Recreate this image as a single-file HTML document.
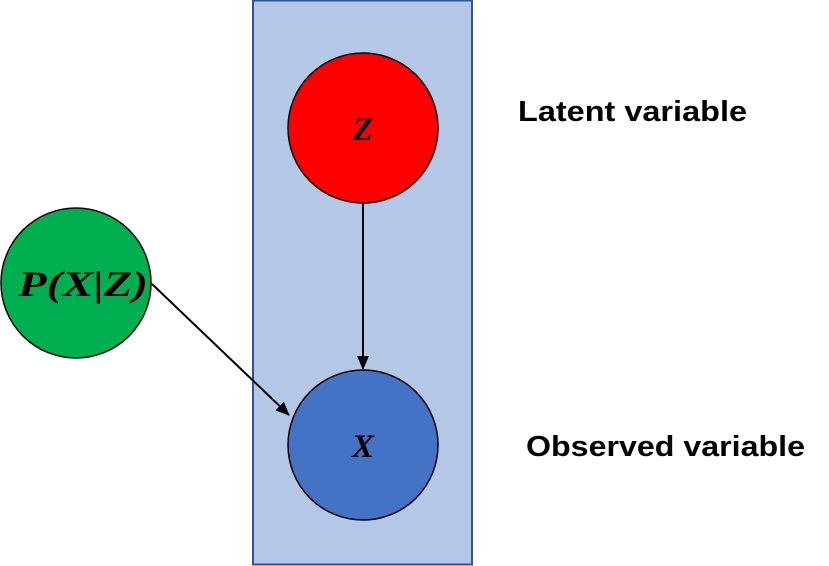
<!DOCTYPE html>
<html><head><style>
html,body{margin:0;padding:0;background:#fff;width:829px;height:566px;overflow:hidden}
</style></head><body>
<svg width="829" height="566" xmlns="http://www.w3.org/2000/svg">
<defs><marker id="b" markerWidth="14" markerHeight="12" refX="13" refY="6" orient="auto" markerUnits="userSpaceOnUse"><path d="M0,0 L14,6 L0,12 z" fill="#000"/></marker></defs>
<rect x="253" y="0.5" width="219" height="564" fill="#b4c7e7" stroke="#2f5597" stroke-width="2"/>
<circle cx="363" cy="128" r="75" fill="#ff0000" stroke="#000" stroke-width="1.5"/>
<circle cx="363" cy="445" r="75" fill="#4472c4" stroke="#000" stroke-width="1.5"/>
<circle cx="76" cy="283" r="75" fill="#00b050" stroke="#000" stroke-width="1.5"/>
<line x1="363" y1="203" x2="363" y2="369" stroke="#000" stroke-width="2" marker-end="url(#b)"/>
<line x1="152" y1="284" x2="289" y2="415" stroke="#000" stroke-width="2" marker-end="url(#b)"/>
<g font-family="Liberation Serif, serif" font-style="italic" font-weight="bold" font-size="33" text-anchor="middle">
<text x="363" y="140">Z</text>
<text x="363" y="457">X</text>
<text x="83" y="296" font-size="36" textLength="130" lengthAdjust="spacingAndGlyphs">P(X|Z)</text>
</g>
<g font-family="Liberation Sans, sans-serif" font-weight="bold" font-size="29">
<text x="518" y="121" textLength="229" lengthAdjust="spacingAndGlyphs">Latent variable</text>
<text x="526" y="456" textLength="279" lengthAdjust="spacingAndGlyphs">Observed variable</text>
</g>
</svg>
</body></html>
